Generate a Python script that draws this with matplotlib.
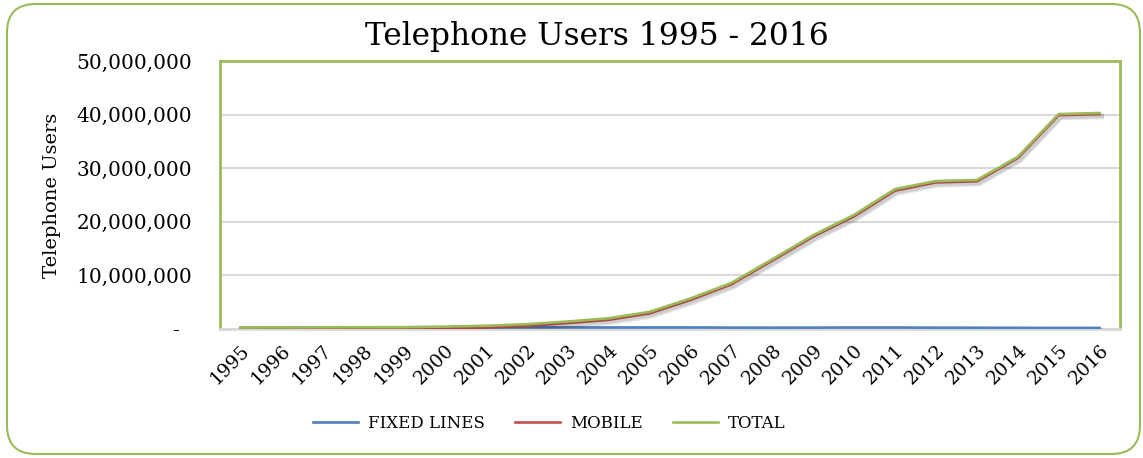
import matplotlib
matplotlib.use("Agg")
import matplotlib.pyplot as plt
import matplotlib.patheffects as pe
from matplotlib.patches import FancyBboxPatch
from matplotlib.ticker import FuncFormatter, MultipleLocator

years = [str(y) for y in range(1995, 2017)]
fixed_lines = [0.28e6, 0.29e6, 0.30e6, 0.31e6, 0.31e6, 0.31e6, 0.32e6, 0.32e6,
               0.30e6, 0.29e6, 0.29e6, 0.29e6, 0.26e6, 0.25e6, 0.26e6, 0.28e6,
               0.28e6, 0.25e6, 0.24e6, 0.22e6, 0.20e6, 0.20e6]
total = [0.28e6, 0.29e6, 0.31e6, 0.33e6, 0.34e6, 0.45e6, 0.60e6, 0.90e6,
         1.40e6, 2.00e6, 3.20e6, 5.70e6, 8.60e6, 13.0e6, 17.5e6, 21.3e6,
         26.1e6, 27.6e6, 27.8e6, 32.1e6, 40.1e6, 40.3e6]
mobile = [t - f for t, f in zip(total, fixed_lines)]

series_names = ["FIXED LINES", "MOBILE", "TOTAL"]
series_colors = ["#4F81BD", "#C0504D", "#9BBB59"]

serif = ["DejaVu Serif"]
fig = plt.figure(figsize=(11.43, 4.58), dpi=100)
border = FancyBboxPatch((7 / 1143, 4 / 458), 1133 / 1143, 450 / 458,
                        boxstyle="round,pad=0,rounding_size=0.025",
                        transform=fig.transFigure, facecolor="none",
                        edgecolor="#9BBB59", linewidth=1.5,
                        mutation_aspect=1143 / 458, zorder=-10)
fig.patches.append(border)

ax = fig.add_axes([220 / 1143, 1 - 329 / 458, 900 / 1143, 268 / 458])
x = list(range(len(years)))
shadow = [pe.SimpleLineShadow(offset=(1.5, -2), shadow_color="black", alpha=0.10, linewidth=3.5),
          pe.Normal()]
for vals, name, col in zip([fixed_lines, mobile, total], series_names, series_colors):
    ax.plot(x, vals, color=col, linewidth=1.9, label=name, path_effects=shadow,
            solid_joinstyle="round", zorder=3)

ax.set_xlim(-0.5, len(years) - 0.5)
ax.set_ylim(0, 50e6)
ax.yaxis.set_major_locator(MultipleLocator(10e6))
ax.yaxis.set_major_formatter(FuncFormatter(lambda v, p: "-  " if v == 0 else f"{int(v):,}"))
ax.grid(axis="y", color="#D9D9D9", linewidth=1.5, zorder=0)
ax.set_axisbelow(True)
ax.set_xticks(x)
ax.set_xticklabels(years, rotation=45, ha="right", va="top", rotation_mode="anchor",
                   family=serif, fontsize=13.5)
for lab in ax.get_yticklabels():
    lab.set_family(serif)
    lab.set_fontsize(14.5)
ax.tick_params(axis="y", length=0, pad=20)
ax.tick_params(axis="x", length=0, pad=9)
for s in ["left", "top", "right"]:
    ax.spines[s].set_color("#9BBB59")
    ax.spines[s].set_linewidth(2)
ax.spines["bottom"].set_color("#D9D9D9")
ax.spines["bottom"].set_linewidth(2)

ax.set_ylabel("Telephone Users", family=serif, fontsize=14)
ax.yaxis.set_label_coords((61 - 220) / 900, 0.5)
fig.text(597 / 1143, 1 - 37 / 458, "Telephone Users 1995 - 2016", family=serif,
         fontsize=22.5, ha="center", va="center")

leg = fig.legend(loc="center", bbox_to_anchor=(549 / 1143, 1 - 423 / 458), ncol=3,
                 frameon=False, prop={"family": serif, "size": 12},
                 handlelength=2.7, columnspacing=1.8, handletextpad=0.6)
for h in leg.get_lines():
    h.set_path_effects([pe.Normal()])

fig.savefig("out.png", dpi=100)
